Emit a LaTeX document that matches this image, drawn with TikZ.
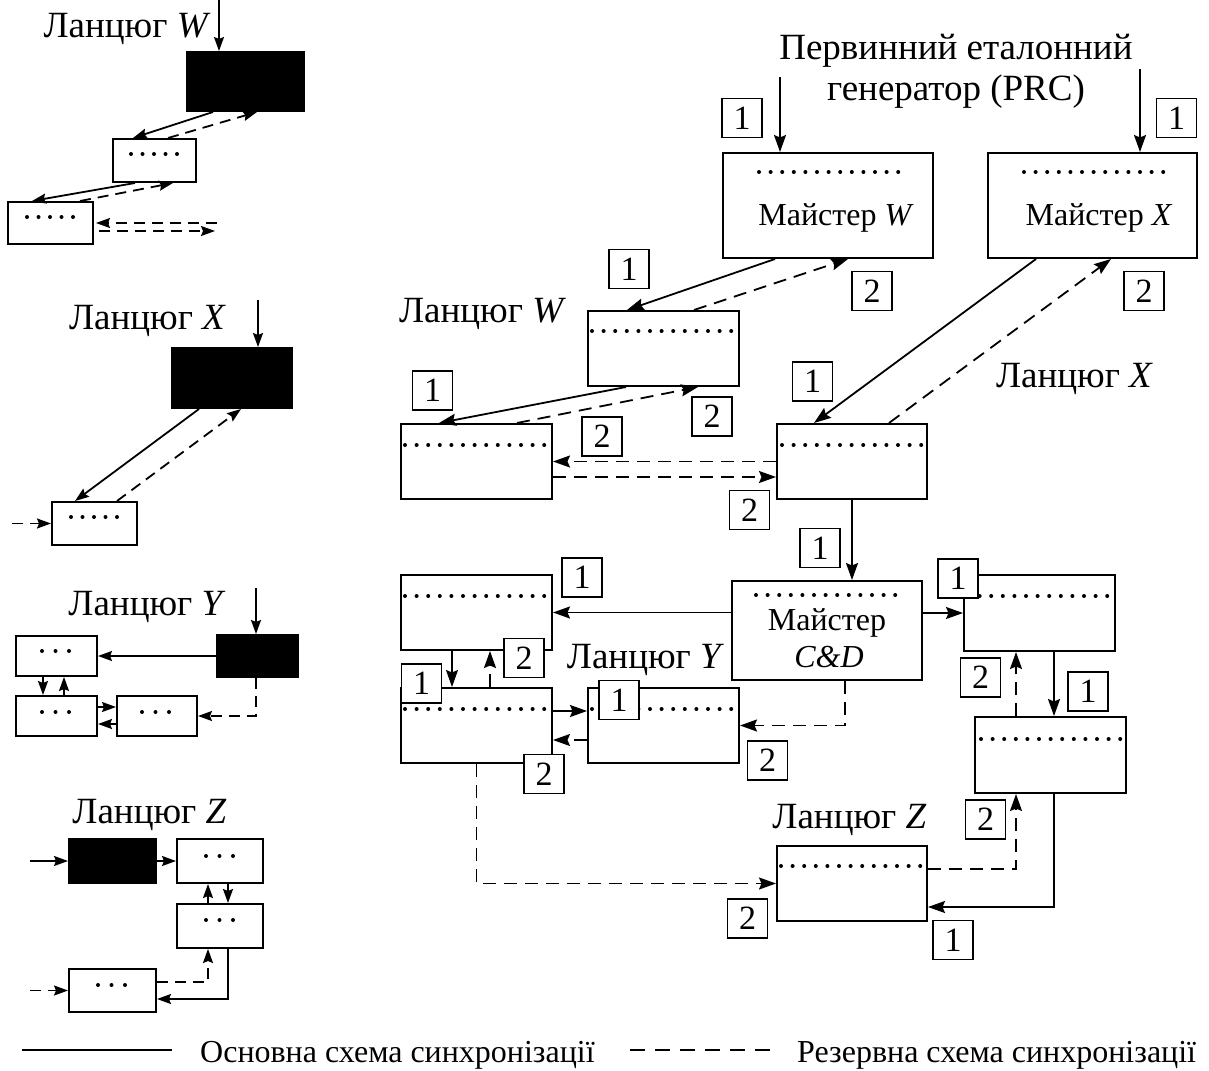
\documentclass[tikz,border=0pt]{standalone}
\usepackage{fontspec}
\setmainfont{Liberation Serif}
\usetikzlibrary{arrows.meta,calc}
\newcommand\fBig{\fontsize{37}{40}\selectfont}
\newcommand\fMid{\fontsize{32}{36}\selectfont}
\newcommand\fLab{\fontsize{34}{36}\selectfont}
\newcommand\fLeg{\fontsize{32}{36}\selectfont}
\newcommand\dotrow[3]{\draw[dotrowst] ([shift={(#2pt,-#3pt)}]#1.north west) -- ++(140pt,0pt);}
\newcommand\sdotrow[5]{\draw[sdotst,dash pattern=on 0pt off #5pt] ([shift={(#2pt,-#3pt)}]#1.north west) -- ++(#4pt,0pt);}
\begin{document}
\begin{tikzpicture}[x=1pt,y=-1pt,
  bx/.style={draw, line width=2pt, inner sep=0pt, fill=white},
  blk/.style={draw, fill=black, line width=2pt, inner sep=0pt},
  lab/.style={draw, fill=white, line width=1.8pt, inner sep=0pt, minimum width=40pt, minimum height=39pt, font=\fLab},
  ln/.style={line width=1.8pt},
  sol/.style={ln, -{Stealth[length=17pt,width=12pt,inset=2.5pt]}},
  das/.style={sol, dash pattern=on 13pt off 8pt},
  solS/.style={ln, -{Stealth[length=14pt,width=10pt,inset=2pt]}},
  dasS/.style={solS, dash pattern=on 11pt off 7pt},
  dotrowst/.style={line width=4pt, line cap=round, dash pattern=on 0pt off 11.6pt},
  sdotst/.style={line width=4pt, line cap=round},
  txt/.style={inner sep=0pt, anchor=base, font=\fBig},
]
\useasboundingbox (0,0) rectangle (1209,1070);

% ---------------- right diagram: boxes
\node[bx, minimum width=210pt, minimum height=105pt] (mW) at (828,205.5) {};
\node[bx, minimum width=209pt, minimum height=105pt] (mX) at (1092.5,205.5) {};
\node[bx, minimum width=151pt, minimum height=75pt] (W1) at (663.5,348.5) {};
\node[bx, minimum width=151pt, minimum height=75pt] (W2) at (476.5,461.5) {};
\node[bx, minimum width=150pt, minimum height=75pt] (X1) at (852,461.5) {};
\node[bx, minimum width=190pt, minimum height=99pt] (CD) at (827,630.5) {};
\node[bx, minimum width=151pt, minimum height=75pt] (YA) at (476.5,612.5) {};
\node[bx, minimum width=151pt, minimum height=75pt] (YB) at (476.5,725.5) {};
\node[bx, minimum width=151pt, minimum height=75pt] (YC) at (663.5,725.5) {};
\node[bx, minimum width=151pt, minimum height=76pt] (R1) at (1039.5,613) {};
\node[bx, minimum width=151pt, minimum height=76pt] (R2) at (1050.5,755) {};
\node[bx, minimum width=150pt, minimum height=75pt] (Z) at (852,883.5) {};

\dotrow{mW}{37}{20}
\dotrow{mX}{37}{20}
\dotrow{CD}{25}{15}
\dotrow{W1}{5}{21}
\dotrow{W2}{5}{22}
\dotrow{X1}{6}{22}
\dotrow{YA}{5}{22}
\dotrow{YB}{5}{22}
\dotrow{YC}{5}{22}
\dotrow{R1}{5}{22}
\dotrow{R2}{7}{23}
\dotrow{Z}{5}{21}

% texts
\node[txt] (tPRC1) at (956,60) {Первинний еталонний};
\node[txt] (tPRC2) at (956,101) {генератор (PRC)};
\node[txt, font=\fMid] (tmW) at (836,225) {Майстер \textit{W}};
\node[txt, font=\fMid] (tmX) at (1099,225) {Майстер \textit{X}};
\node[txt, font=\fMid] (tCD1) at (827,630) {Майстер};
\node[txt, font=\fMid] (tCD2) at (829,667) {\textit{C\&D}};
\node[txt] (tRW) at (482.5,322) {Ланцюг \textit{W}};
\node[txt] (tRX) at (1074.5,387) {Ланцюг \textit{X}};
\node[txt] (tRY) at (645.5,668) {Ланцюг \textit{Y}};
\node[txt] (tRZ) at (849.5,828) {Ланцюг \textit{Z}};

% connectors
\coordinate (pL) at (780,77);
\coordinate (pR) at (1140,69);
\draw[sol] (pL) -- (pL |- mW.north);
\draw[sol] (pR) -- (pR |- mX.north);
\draw[sol] ([xshift=53pt]mW.south west) -- ([xshift=40pt]W1.north west);
\draw[das] ([xshift=107pt]W1.north west) -- ([xshift=126pt]mW.south west);
\draw[sol] ([xshift=39pt]W1.south west) -- ([xshift=39pt]W2.north west);
\draw[das] ([xshift=117pt]W2.north west) -- ([xshift=111pt]W1.south west);
\draw[sol] ([xshift=49pt]mX.south west) -- ([xshift=38pt]X1.north west);
\draw[das] ([xshift=113pt]X1.north west) -- ([xshift=124pt]mX.south west);
\draw[das] (X1.west) -- (W2.east);
\draw[das] ([yshift=-15.5pt]W2.east) -- ([yshift=-15.5pt]X1.west);
\draw[sol] (X1.south) -- (X1.south |- CD.north);
\draw[sol] (YA.east -| CD.west) -- (YA.east);
\draw[sol] (R1.west -| CD.east) -- (R1.west);
\draw[das] ([xshift=18pt]CD.south) |- (YC.east);
\draw[sol] ([xshift=52pt]YA.south west) -- ([xshift=52pt]YB.north west);
\draw[das] ([xshift=90pt]YB.north west) -- ([xshift=90pt]YA.south west);
\draw[sol] ([yshift=14.5pt]YB.east) -- ([yshift=14.5pt]YC.west);
\draw[das] ([yshift=-14.5pt]YC.west) -- ([yshift=-14.5pt]YB.east);
\draw[das] (YB.south) |- (Z.west);
\draw[sol] ([xshift=91pt]R1.south west) -- ([xshift=80pt]R2.north west);
\draw[das] ([xshift=42pt]R2.north west) -- ([xshift=53pt]R1.south west);
\draw[sol] ([xshift=80pt]R2.south west) |- ([yshift=-23.5pt]Z.east);
\draw[das] ([yshift=14.5pt]Z.east) -| ([xshift=42pt]R2.south west);

% labels
\node[lab] (q1) at (742,118) {1};
\node[lab] (q2) at (1176.5,118) {1};
\node[lab] (q3) at (629,269) {1};
\node[lab] (q4) at (872,291) {2};
\node[lab] (q5) at (1144,291) {2};
\node[lab] (q6) at (432.5,390.5) {1};
\node[lab] (q7) at (712,416.5) {2};
\node[lab] (q8) at (602,436.5) {2};
\node[lab] (q9) at (812.5,381.5) {1};
\node[lab] (q10) at (749.5,510) {2};
\node[lab] (q11) at (820,548) {1};
\node[lab] (q12) at (582,577.5) {1};
\node[lab] (q13) at (958,578.5) {1};
\node[lab] (q14) at (524,658) {2};
\node[lab] (q15) at (421.5,683.5) {1};
\node[lab] (q16) at (619,700) {1};
\node[lab] (q17) at (980.5,677.5) {2};
\node[lab] (q18) at (1088,691.5) {1};
\node[lab] (q19) at (544,774) {2};
\node[lab] (q20) at (767.5,760.5) {2};
\node[lab] (q21) at (985.5,819.5) {2};
\node[lab] (q22) at (747.5,918.5) {2};
\node[lab] (q23) at (953,940) {1};

% ---------------- left: chain W
\node[txt] (tLW) at (127,38) {Ланцюг \textit{W}};
\node[blk, minimum width=117pt, minimum height=59pt] (bW) at (245.5,81.5) {};
\node[bx, minimum width=83pt, minimum height=43pt] (sW1) at (154.5,160.5) {};
\node[bx, minimum width=85pt, minimum height=42pt] (sW2) at (50.5,223) {};
\sdotrow{sW1}{19}{16}{46.2}{11.5}
\sdotrow{sW2}{20}{16}{46.2}{11.5}
\coordinate (inW) at (219,0);
\draw[solS] (inW) -- (inW |- bW.north);
\draw[solS] ([xshift=-32.5pt]bW.south) -- ([xshift=-21.5pt]sW1.north);
\draw[dasS] ([xshift=13.5pt]sW1.north) -- ([xshift=11.5pt]bW.south);
\draw[solS] ([xshift=-19.5pt]sW1.south) -- ([xshift=-18.5pt]sW2.north);
\draw[dasS] ([xshift=29.5pt]sW2.north) -- ([xshift=18.5pt]sW1.south);
\coordinate (wR1) at (217,223);
\coordinate (wR2) at (215,231);
\draw[dasS] (wR1) -- ([xshift=2pt]sW2.east);
\draw[dasS] ([shift={(5pt,-8pt)}]sW2.east) -- (wR2);

% chain X
\node[txt] (tLX) at (147.5,329) {Ланцюг \textit{X}};
\node[blk, minimum width=120pt, minimum height=60pt] (bX) at (232,378) {};
\node[bx, minimum width=85pt, minimum height=43pt] (sX) at (94.5,523.5) {};
\sdotrow{sX}{20}{16}{46.2}{11.5}
\coordinate (inX) at (258,300);
\draw[solS] (inX) -- (inX |- bX.north);
\draw[solS] ([xshift=-33pt]bX.south) -- ([xshift=-19.5pt]sX.north);
\draw[dasS] ([xshift=22.5pt]sX.north) -- ([xshift=9pt]bX.south);
\coordinate (inX2) at (12,523.5);
\draw[dasS] (inX2) -- (sX.west);

% chain Y
\node[txt] (tLY) at (147,615) {Ланцюг \textit{Y}};
\node[blk, minimum width=81pt, minimum height=42pt] (bY) at (257.5,656) {};
\node[bx, minimum width=81pt, minimum height=40pt] (yA) at (56.5,656) {};
\node[bx, minimum width=81pt, minimum height=40pt] (yB) at (56.5,716) {};
\node[bx, minimum width=80pt, minimum height=40pt] (yC) at (157,716) {};
\sdotrow{yA}{27}{16}{27.2}{13.5}
\sdotrow{yB}{27}{17}{27.2}{13.5}
\sdotrow{yC}{26}{17}{27.2}{13.5}
\coordinate (inY) at (256,588);
\draw[solS] (inY) -- (inY |- bY.north);
\draw[solS] (bY.west) -- (yA.east);
\draw[solS] ([xshift=-13.5pt]yA.south) -- ([xshift=-13.5pt]yB.north);
\draw[solS] ([xshift=7.5pt]yB.north) -- ([xshift=7.5pt]yA.south);
\draw[solS] ([yshift=9pt]yB.east) -- ([yshift=9pt]yC.west);
\draw[solS] ([yshift=-8pt]yC.west) -- ([yshift=-8pt]yB.east);
\draw[dasS] ([xshift=-1.5pt]bY.south) |- (yC.east);

% chain Z
\node[txt] (tLZ) at (149.5,823) {Ланцюг \textit{Z}};
\node[blk, minimum width=87pt, minimum height=44pt] (bZ) at (112.5,861) {};
\node[bx, minimum width=86pt, minimum height=44pt] (z1) at (220,861) {};
\node[bx, minimum width=86pt, minimum height=44pt] (z2) at (220,926) {};
\node[bx, minimum width=87pt, minimum height=43pt] (z3) at (112.5,990.5) {};
\sdotrow{z1}{30}{18}{27.2}{13.5}
\sdotrow{z2}{30}{17}{27.2}{13.5}
\sdotrow{z3}{30}{17}{27.2}{13.5}
\coordinate (inZ) at (30,861);
\draw[solS] (inZ) -- (bZ.west);
\draw[solS] (bZ.east) -- (z1.west);
\draw[solS] ([xshift=-12pt]z2.north) -- ([xshift=-12pt]z1.south);
\draw[solS] ([xshift=8pt]z1.south) -- ([xshift=8pt]z2.north);
\draw[dasS] ([yshift=8.5pt]z3.east) -| ([xshift=-12pt]z2.south);
\draw[solS] ([xshift=8pt]z2.south) |- ([yshift=-8.5pt]z3.east);
\coordinate (inZ2) at (30,990.5);
\draw[dasS] (inZ2) -- (z3.west);

% ---------------- legend
\coordinate (lg1) at (22,1050);
\coordinate (lg2) at (172,1050);
\coordinate (lg3) at (630,1050);
\coordinate (lg4) at (775,1050);
\draw[ln] (lg1) -- (lg2);
\draw[ln, dash pattern=on 15pt off 10pt] (lg3) -- (lg4);
\node[inner sep=0pt, anchor=base west, font=\fLeg] (lgt1) at (200,1062) {Основна схема синхронізації};
\node[inner sep=0pt, anchor=base west, font=\fLeg] (lgt2) at (797,1062) {Резервна схема синхронізації};
\end{tikzpicture}
\end{document}
